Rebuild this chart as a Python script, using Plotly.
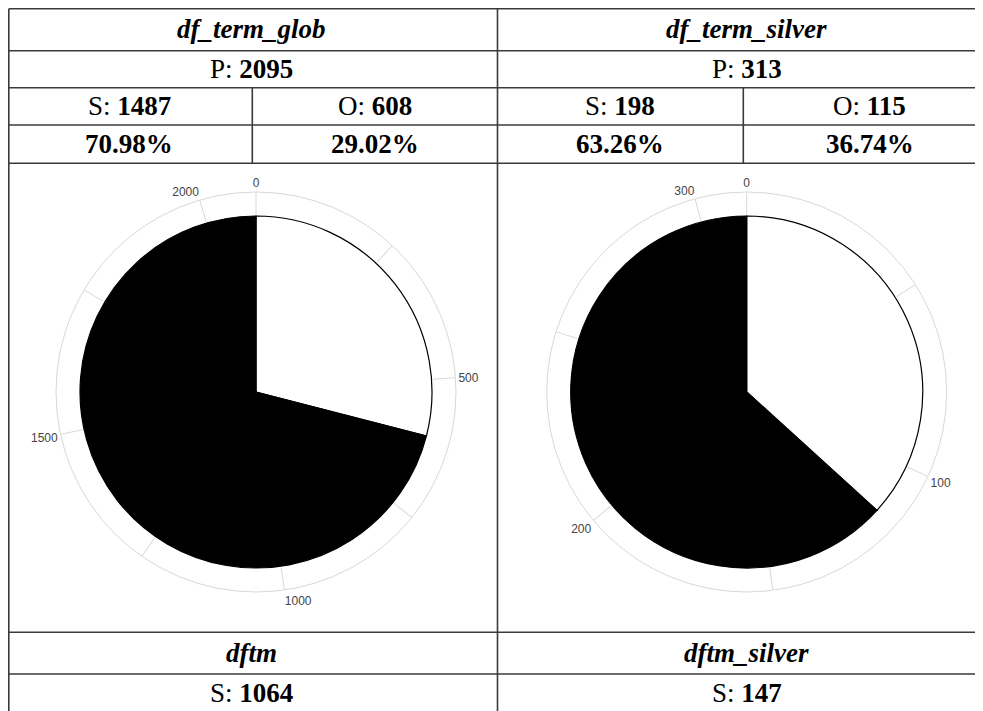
import plotly.graph_objects as go

# data
panel_names = ["df_term_glob", "df_term_silver"]
p_totals = [2095, 313]
s_counts = [1487, 198]
o_counts = [608, 115]
bottom_names = ["dftm", "dftm_silver"]
bottom_s = [1064, 147]
tick_steps = [250, 50]
label_steps = [500, 100]

# the page body has an 8px margin, so the figure starts at (8, 8) in the window
OFF = 8
W, H = 983, 711 - OFF
SERIF = "Liberation Serif, Times New Roman, serif"
LINE = "#3a3a3a"


def px(x):
    return (x - OFF) / W


def py(y):
    return 1 - (y - OFF) / H


fig = go.Figure()

# column geometry (window pixels)
col_right = [497.5, 996]
col_split = [252.3, 743.3]
row_lines = [8.8, 50.7, 87.7, 125, 163.3, 632.3, 674]

shapes = []
for y in row_lines:
    shapes.append(dict(type="line", xref="paper", yref="paper",
                       x0=px(8.8), x1=px(1000), y0=py(y), y1=py(y),
                       line=dict(color=LINE, width=1.6)))
for x in [8.8, 497.5]:
    shapes.append(dict(type="line", xref="paper", yref="paper",
                       x0=px(x), x1=px(x), y0=py(8.8), y1=py(720),
                       line=dict(color=LINE, width=1.6)))
for x in col_split:
    shapes.append(dict(type="line", xref="paper", yref="paper",
                       x0=px(x), x1=px(x), y0=py(87.7), y1=py(163.3),
                       line=dict(color=LINE, width=1.6)))

annotations = []


def add_text(x, y, text, size=27):
    annotations.append(dict(x=px(x), y=py(y), xref="paper", yref="paper",
                            text=text, showarrow=False, xanchor="center", yanchor="middle",
                            font=dict(family=SERIF, size=size, color="black")))


for i in range(2):
    total = p_totals[i]
    s = s_counts[i]
    o = o_counts[i]
    xl, xr, xs = (6, 497.5)[i], col_right[i], col_split[i]
    xc = (xl + xr) / 2
    add_text(xc, 29.3, "<b><i>" + panel_names[i] + "</i></b>")
    add_text(xc, 69.2, "P: <b>" + str(total) + "</b>")
    add_text((xl + xs) / 2, 106.3, "S: <b>" + str(s) + "</b>")
    add_text((xs + xr) / 2, 106.3, "O: <b>" + str(o) + "</b>")
    add_text((xl + xs) / 2, 144.2, "<b>%.2f%%</b>" % (100.0 * s / total))
    add_text((xs + xr) / 2, 144.2, "<b>%.2f%%</b>" % (100.0 * o / total))
    add_text(xc, 653, "<b><i>" + bottom_names[i] + "</i></b>")
    add_text(xc, 693, "S: <b>" + str(bottom_s[i]) + "</b>")

    # pie as a polar bar chart, angle scale = value / total * 360
    deg = 360.0 / total
    name = "polar" if i == 0 else "polar2"
    fig.add_trace(go.Barpolar(
        r=[1, 1],
        theta=[o / 2 * deg, (o + s / 2) * deg],
        width=[o * deg, s * deg],
        marker=dict(color=["white", "black"], line=dict(color="black", width=1.2)),
        subplot=name, showlegend=False, hoverinfo="skip",
    ))

    ticks = list(range(0, total, tick_steps[i]))
    tick_text = [str(t) if t % label_steps[i] == 0 else "" for t in ticks]
    cx = (256, 746.7)[i]
    cy = 392
    R = 200
    fig.layout[name] = dict(
        domain=dict(x=[px(cx - R), px(cx + R)], y=[py(cy + R), py(cy - R)]),
        bgcolor="white",
        bargap=0,
        radialaxis=dict(visible=False, range=[0, 200 / 176.0]),
        angularaxis=dict(
            rotation=90, direction="clockwise",
            tickmode="array", tickvals=[t * deg for t in ticks], ticktext=tick_text,
            ticks="inside", ticklen=22, tickcolor="#d8d8d8", tickwidth=1,
            showgrid=False, showline=True, linecolor="#d8d8d8", linewidth=1,
            tickfont=dict(family="Liberation Sans, Arial, sans-serif", size=12, color="#444"),
        ),
    )

fig.update_layout(
    width=W, height=H,
    margin=dict(l=0, r=0, t=0, b=0),
    paper_bgcolor="white",
    plot_bgcolor="white",
    shapes=shapes,
    annotations=annotations,
)

fig.write_html("out.html")
